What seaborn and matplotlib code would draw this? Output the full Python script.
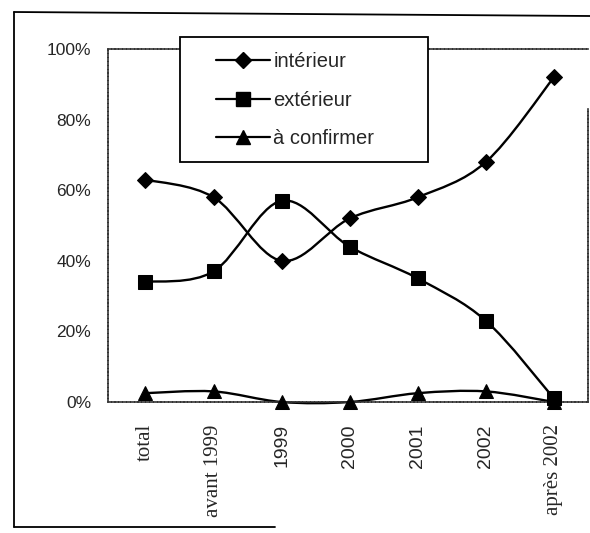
import matplotlib
matplotlib.use("Agg")
import matplotlib.pyplot as plt
import seaborn as sns
import numpy as np
import pandas as pd
from matplotlib.path import Path
from matplotlib.patches import PathPatch, Rectangle
from matplotlib.lines import Line2D

# data
periodes = ["total", "avant 1999", "1999", "2000", "2001", "2002", "après 2002"]
interieur = [63, 58, 40, 52, 58, 68, 92]
exterieur = [34, 37, 57, 44, 35, 23, 1]
a_confirmer = [2.5, 3, 0, 0, 2.5, 3, 0]
series = ["intérieur", "extérieur", "à confirmer"]
y_ticks = [0, 20, 40, 60, 80, 100]

sns.set_style("white")
plt.rcParams["font.family"] = ["Liberation Sans", "DejaVu Sans"]

df = pd.DataFrame({
    "pos": list(range(len(periodes))) * 3,
    "part": interieur + exterieur + a_confirmer,
    "serie": [s for s in series for _ in periodes],
})

fig = plt.figure(figsize=(5.9, 5.33), dpi=100)
ax = fig.add_axes([108 / 590, 131 / 533, 480 / 590, 353 / 533])

markers = {"intérieur": "D", "extérieur": "s", "à confirmer": "^"}
msize = {"intérieur": 8.5, "extérieur": 9.5, "à confirmer": 10}

# smoothed lines (Excel style), drawn as bezier curves through the points
def smooth_path(xs, ys):
    pts = np.column_stack([xs, ys]).astype(float)
    n = len(pts)
    verts = [pts[0]]
    codes = [Path.MOVETO]
    for i in range(n - 1):
        p0 = pts[i - 1] if i > 0 else pts[i]
        p1, p2 = pts[i], pts[i + 1]
        p3 = pts[i + 2] if i + 2 < n else pts[i + 1]
        verts += [p1 + (p2 - p0) / 6, p2 - (p3 - p1) / 6, p2]
        codes += [Path.CURVE4] * 3
    return Path(verts, codes)

for s in series:
    sub = df[df["serie"] == s]
    ax.add_patch(PathPatch(smooth_path(sub["pos"], sub["part"]), fill=False,
                           edgecolor="black", lw=1.7, zorder=2, clip_on=False))
    sns.lineplot(data=sub, x="pos", y="part", marker=markers[s], markersize=msize[s],
                 color="black", linewidth=0, markeredgecolor="black", ax=ax,
                 legend=False, zorder=3, clip_on=False)

ax.set_xlim(-0.55, 6.5)
ax.set_ylim(0, 100)
ax.set_xlabel("")
ax.set_ylabel("")
ax.set_yticks(y_ticks)
ax.set_yticklabels([f"{v}%" for v in y_ticks], fontsize=12.5)
ax.set_xticks(range(len(periodes)))
ax.set_xticklabels(periodes, rotation=90, fontsize=14)
for lab in ax.get_xticklabels():
    if not lab.get_text()[:1].isdigit():
        lab.set_family(["Liberation Serif", "DejaVu Serif"])
        lab.set_fontsize(15)
ax.set_xticks(np.arange(0.5, 6, 1), minor=True)
ax.tick_params(axis="y", length=0, pad=12)
ax.tick_params(axis="x", which="major", length=0, pad=16)
ax.tick_params(axis="x", which="minor", length=4, width=0.8, color="#666666")
for sp in ax.spines.values():
    sp.set_visible(True)
    sp.set_color("#333333")
    sp.set_linewidth(1.2)
    sp.set_linestyle((0, (1.5, 0.8)))
ax.spines["right"].set_bounds(0, 83)

# legend box
fig.patches.append(Rectangle((180 / 590, 1 - 162 / 533), 248 / 590, 125 / 533,
                             transform=fig.transFigure, facecolor="white",
                             edgecolor="black", lw=1.3, zorder=4))
handles = [Line2D([], [], color="black", lw=1.6, marker=markers[s], markersize=msize[s])
           for s in series]
fig.legend(handles, series, loc="upper left", bbox_to_anchor=(216 / 590, 1 - 52 / 533),
           frameon=False, fontsize=14.5, borderpad=0, handlelength=2.7,
           handletextpad=0.15, labelspacing=0.98, borderaxespad=0)

# outer chart border from the scan
fig.add_artist(Line2D([14 / 590, 14 / 590], [1 - 12 / 533, 1 - 527 / 533], color="black", lw=1.3))
fig.add_artist(Line2D([14 / 590, 1.0], [1 - 12 / 533, 1 - 16 / 533], color="black", lw=1.3))
fig.add_artist(Line2D([14 / 590, 275 / 590], [1 - 527 / 533, 1 - 527 / 533], color="black", lw=1.3))

fig.savefig("out.png", dpi=100)
